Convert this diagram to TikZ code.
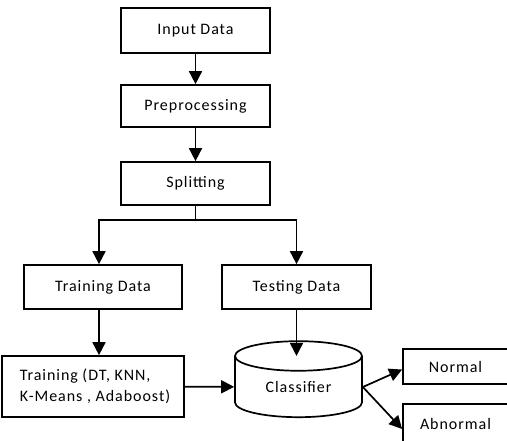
\documentclass[tikz,border=0pt]{standalone}
\usepackage{fontspec}
\setmainfont{Carlito}[LetterSpace=6]
\usetikzlibrary{shapes.geometric}
\usetikzlibrary{arrows.meta}
\tikzset{
  procbox/.style={draw, line width=1.7pt, inner sep=0pt, font=\fontsize{16}{21}\selectfont},
  dbnode/.style={draw, line width=1.7pt, cylinder, shape border rotate=90, aspect=0.45,
    inner sep=0pt, minimum width=127pt, minimum height=76pt, font=\fontsize{16}{21}\selectfont},
  flow/.style={line width=1.7pt, -{Triangle[length=13pt,width=13pt]}}
}
\newcommand{\flowarrow}[2]{\draw[flow] (#1) -- (#2);}
\begin{document}
\begin{tikzpicture}[x=1pt,y=-1pt]
        \useasboundingbox (0,0) rectangle (507,440);

        % main column
        \node[procbox, minimum width=149pt, minimum height=45pt] (input) at (195.5,30.5) {Input Data};
        \node[procbox, minimum width=149pt, minimum height=42pt] (prep) at (195.5,106) {Preprocessing};
        \node[procbox, minimum width=149pt, minimum height=43pt] (split) at (195.5,183.5) {Splitting};

        % two branches
        \node[procbox, minimum width=158pt, minimum height=44pt] (traindata) at (103,287) {Training Data};
        \node[procbox, minimum width=149pt, minimum height=44pt] (testdata) at (296.5,287) {Testing Data};

        % models and classifier
        \node[procbox, minimum width=182pt, minimum height=61pt, align=left] (train) at (93,386.5) {\hspace*{4pt}Training (DT, KNN,\\\hspace*{4pt}K-Means , Adaboost)};
        \node[dbnode] (clf) at (298.5,387) {Classifier};

        % outputs
        \node[procbox, minimum width=109pt, minimum height=35pt] (normal) at (457.5,366.5) {\hspace*{-4pt}Normal};
        \node[procbox, minimum width=109pt, minimum height=40pt] (abnormal) at (457.5,424) {\hspace*{-4pt}Abnormal};

        % arrows
        \flowarrow{input}{prep}
        \flowarrow{prep}{split}
        \coordinate (fork) at ([yshift=-14pt]split.south);
        \draw[line width=1.7pt] (split) -- (fork);
        \draw[flow] (fork) -| ([xshift=-4pt]traindata.north);
        \draw[flow] (fork) -| (testdata.north);
        \draw[flow] ([xshift=-4pt]traindata.south) -- ([xshift=-4pt]traindata.south |- train.north);
        \draw[flow] (testdata.south) -- (testdata.south |- clf.before top);
        \flowarrow{train}{clf}
        \draw[flow] (clf.east) -- ([yshift=-3pt]normal.west);
        \draw[flow] (clf.east) -- ([yshift=-5pt]abnormal.west);
\end{tikzpicture}
\end{document}
